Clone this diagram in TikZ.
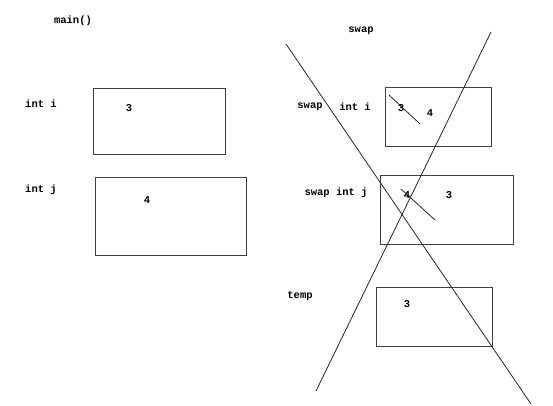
\documentclass[tikz,border=0pt]{standalone}
\usepackage{fontspec}
\setmonofont{Liberation Mono}
\begin{document}
\begin{tikzpicture}[x=1pt,y=-1pt,
  box/.style={draw=black!75, line width=1.3pt, inner sep=0pt, anchor=north west},
  lbl/.style={font=\ttfamily\bfseries\fontsize{10.5}{12}\selectfont, inner sep=0pt},
  cross/.style={draw=black!85, line width=0.8pt}]
\useasboundingbox (0,0) rectangle (553,406);
% main boxes
\node[box, minimum width=132pt, minimum height=66pt] (mi) at (93,88) {};
\node[box, minimum width=151pt, minimum height=78pt] (mj) at (95,177) {};
% swap boxes
\node[box, minimum width=106pt, minimum height=59pt] (si) at (385,87) {};
\node[box, minimum width=133pt, minimum height=69pt] (sj) at (380,175) {};
\node[box, minimum width=116pt, minimum height=59pt] (tp) at (376,287) {};
% labels
\node[lbl] (main) at (73,21) {main()};
\node[lbl] (inti) at (41,104) {int i};
\node[lbl] (v3a) at (129,108) {3};
\node[lbl] (intj) at (41,190) {int j};
\node[lbl] (v4a) at (147,200) {4};
\node[lbl] (swap) at (361,31) {swap};
\node[lbl] (swapa) at (310,107) {swap};
\node[lbl] (sinti) at (355,107) {int i};
\node[lbl] (v3b) at (401,108) {3};
\node[lbl] (v4b) at (430,113) {4};
\node[lbl] (sintj) at (336,193) {swap int j};
\node[lbl] (v4c) at (407,195) {4};
\node[lbl] (v3c) at (449,195) {3};
\node[lbl] (temp) at (300,296) {temp};
\node[lbl] (v3d) at (407,304) {3};
% cross lines
\coordinate (c1a) at (286,44);
\coordinate (c1b) at (531,404);
\coordinate (c2a) at (491,32);
\coordinate (c2b) at (316,391);
\draw[cross] (c1a) -- (c1b);
\draw[cross] (c2a) -- (c2b);
% strike-outs
\coordinate (s1a) at (389,95);
\coordinate (s1b) at (420,124);
\coordinate (s2a) at (401,189);
\coordinate (s2b) at (435,220);
\draw[cross] (s1a) -- (s1b);
\draw[cross] (s2a) -- (s2b);
\end{tikzpicture}
\end{document}
